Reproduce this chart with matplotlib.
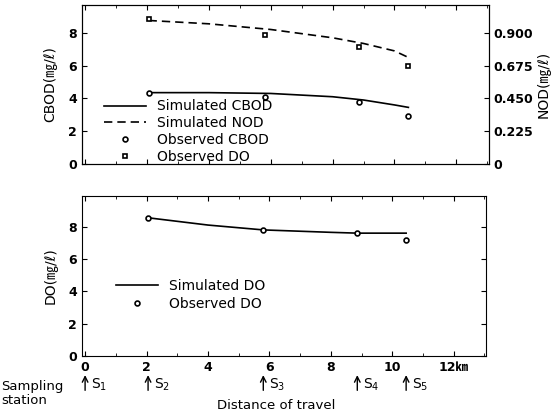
import matplotlib.pyplot as plt
from matplotlib.ticker import MultipleLocator

plt.rcParams['font.family'] = ['DejaVu Sans', 'Noto Sans CJK JP']

# distance of travel (km)
sim_x = [2.05, 4.0, 6.0, 8.0, 9.0, 10.0, 10.45]
sim_cbod = [4.35, 4.35, 4.3, 4.1, 3.9, 3.6, 3.45]
sim_nod = [0.985, 0.962, 0.923, 0.866, 0.827, 0.776, 0.731]   # NOD units
sim_do_x = [2.05, 4.0, 5.8, 8.0, 8.86, 10.45]
sim_do = [8.55, 8.1, 7.8, 7.65, 7.6, 7.6]

obs_x = [2.05, 5.8, 8.86, 10.45]
obs_cbod = [4.3, 4.1, 3.75, 2.9]
obs_nod = [0.993, 0.883, 0.80, 0.67]
obs_do = [8.55, 7.8, 7.6, 7.2]

stations = ['$\\mathrm{S_1}$', '$\\mathrm{S_2}$', '$\\mathrm{S_3}$',
            '$\\mathrm{S_4}$', '$\\mathrm{S_5}$']
station_km = [0, 2.05, 5.8, 8.86, 10.45]

nod_scale = 0.1125  # NOD units per left-axis unit

fig = plt.figure(figsize=(5.58, 4.16), dpi=100)
ax1 = fig.add_axes([0.147, 0.606, 0.729, 0.382])
ax2 = fig.add_axes([0.147, 0.144, 0.724, 0.385])

xlim = (-0.1, 13.05)

# top panel
l1, = ax1.plot(sim_x, sim_cbod, '-', color='black', lw=1.2)
l2, = ax1.plot(sim_x, [v / nod_scale for v in sim_nod], '--', color='black', lw=1.2,
               dashes=(5, 3))
m1, = ax1.plot(obs_x, obs_cbod, 'o', ms=3.5, mfc='white', mec='black', mew=1.2)
m2, = ax1.plot(obs_x, [v / nod_scale for v in obs_nod], 's', ms=3.5, mfc='white',
               mec='black', mew=1.2)
ax1.set_xlim(*xlim)
ax1.set_ylim(0, 9.7)
ax1.set_yticks([0, 2, 4, 6, 8])
ax1.set_xticks(range(0, 13, 2))
ax1.xaxis.set_minor_locator(MultipleLocator(1))
ax1.set_xticklabels([])
ax1.tick_params(direction='in', top=True, which='both', labelsize=9)
ax1.set_ylabel('CBOD(㎎/ℓ)', fontsize=10, labelpad=8)
for lab in ax1.get_yticklabels():
    lab.set_fontweight('bold')

ax1r = ax1.twinx()
ax1r.set_ylim(0, 9.7 * nod_scale)
ax1r.set_yticks([0, 0.225, 0.450, 0.675, 0.900])
ax1r.set_yticklabels(['0', '0.225', '0.450', '0.675', '0.900'], fontweight='bold')
ax1r.tick_params(direction='in', labelsize=9)
ax1r.set_ylabel('NOD(㎎/ℓ)', fontsize=10, labelpad=2)

ax1.legend([l1, l2, m1, m2],
           ['Simulated CBOD', 'Simulated NOD', 'Observed CBOD', 'Observed DO'],
           loc='lower left', bbox_to_anchor=(0.03, -0.06), frameon=False,
           fontsize=10, handlelength=3.0, labelspacing=0.2, borderpad=0.2)

# bottom panel
l3, = ax2.plot(sim_do_x, sim_do, '-', color='black', lw=1.2)
m3, = ax2.plot(obs_x, obs_do, 'o', ms=3.5, mfc='white', mec='black', mew=1.2)
ax2.set_xlim(*xlim)
ax2.set_ylim(0, 9.9)
ax2.set_yticks([0, 2, 4, 6, 8])
ax2.set_xticks(range(0, 13, 2))
ax2.set_xticklabels(['0', '2', '4', '6', '8', '10', '12㎞'], fontweight='bold')
ax2.xaxis.set_minor_locator(MultipleLocator(1))
ax2.tick_params(direction='in', top=True, right=True, which='both', labelsize=9)
ax2.set_ylabel('DO(㎎/ℓ)', fontsize=10, labelpad=8)
for lab in ax2.get_yticklabels():
    lab.set_fontweight('bold')
ax2.legend([l3, m3], ['Simulated DO', 'Observed DO'],
           loc='lower left', bbox_to_anchor=(0.06, 0.22), frameon=False,
           fontsize=10, handlelength=3.0, labelspacing=0.3, borderpad=0.2)

# sampling stations
for name, km in zip(stations, station_km):
    ax2.annotate('', xy=(km, 0.105), xytext=(km, 0.055),
                 xycoords=('data', 'figure fraction'),
                 textcoords=('data', 'figure fraction'),
                 arrowprops=dict(arrowstyle='->', color='black', lw=1))
    ax2.annotate(name, xy=(km + 0.2, 0.075), xycoords=('data', 'figure fraction'),
                 fontsize=10, va='center', ha='left')

fig.text(0.002, 0.072, 'Sampling', fontsize=9.5, va='center')
fig.text(0.002, 0.038, 'station', fontsize=9.5, va='center')
fig.text(0.495, 0.025, 'Distance of travel', fontsize=9.5, ha='center', va='center')

fig.savefig('out.png', dpi=100)
